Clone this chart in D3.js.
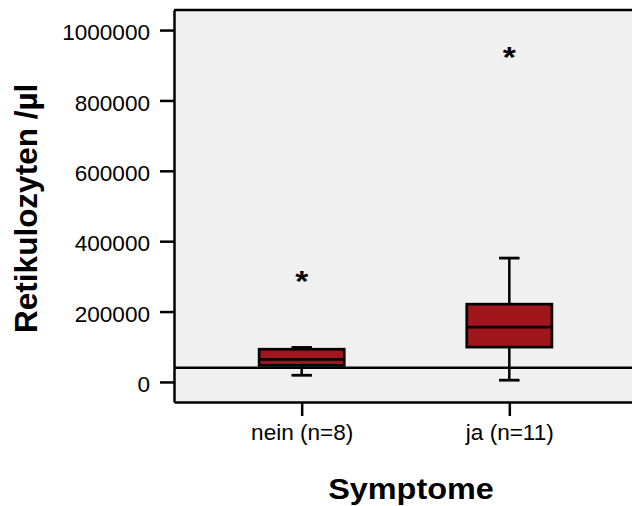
<!DOCTYPE html>
<html>
<head>
<meta charset="utf-8">
<script src="https://cdn.jsdelivr.net/npm/d3@7"></script>
<style>
  html, body { margin: 0; padding: 0; background: #ffffff; }
  svg { display: block; font-family: "Liberation Sans", Arial, sans-serif; }
</style>
</head>
<body>
<svg id="chart" width="632" height="506"></svg>
<script>
// Reticulocyte counts by symptom group (box plot summary)
const categories   = ["nein (n=8)", "ja (n=11)"];
const q1           = [47000, 99000];
const median       = [64000, 156000];
const q3           = [93000, 221000];
const whiskerLow   = [19000, 5000];
const whiskerHigh  = [98000, 352000];
const extremes     = [[298000], [934000]];
const referenceValue = 40000;
const yTicks       = [0, 200000, 400000, 600000, 800000, 1000000];
const yTitle = "Retikulozyten /µl";
const xTitle = "Symptome";

const svg = d3.select("#chart");
const plot = { left: 174, right: 637, top: 10, bottom: 402 };
const stretch = 1.05;
const tickFont = 21.5;
const lineW = 2.5;

const x = d3.scalePoint().domain(categories).range([plot.left, plot.right]).padding(0.615);
const y = d3.scaleLinear().domain([-57000, 1057000]).range([plot.bottom, plot.top]);

// plot background
svg.append("rect")
  .attr("x", plot.left).attr("y", plot.top)
  .attr("width", plot.right - plot.left).attr("height", plot.bottom - plot.top)
  .attr("fill", "#f0f0f0");

// top frame line
svg.append("line")
  .attr("x1", plot.left).attr("x2", plot.right)
  .attr("y1", plot.top).attr("y2", plot.top)
  .attr("stroke", "#000").attr("stroke-width", lineW);

// reference line
svg.append("line")
  .attr("x1", plot.left).attr("x2", plot.right)
  .attr("y1", y(referenceValue)).attr("y2", y(referenceValue))
  .attr("stroke", "#000").attr("stroke-width", lineW);

// boxes
const boxW = x.step() * 0.41;
const capW = boxW * 0.24;
const g = svg.append("g");
categories.forEach((c, i) => {
  const cx = x(c);
  // whiskers
  g.append("line").attr("x1", cx).attr("x2", cx)
    .attr("y1", y(q3[i])).attr("y2", y(whiskerHigh[i]))
    .attr("stroke", "#000").attr("stroke-width", lineW);
  g.append("line").attr("x1", cx).attr("x2", cx)
    .attr("y1", y(q1[i])).attr("y2", y(whiskerLow[i]))
    .attr("stroke", "#000").attr("stroke-width", lineW);
  [whiskerHigh[i], whiskerLow[i]].forEach(v => {
    g.append("line").attr("x1", cx - capW / 2).attr("x2", cx + capW / 2)
      .attr("y1", y(v)).attr("y2", y(v))
      .attr("stroke", "#000").attr("stroke-width", lineW + 0.3);
  });
  // box
  g.append("rect")
    .attr("x", cx - boxW / 2).attr("width", boxW)
    .attr("y", y(q3[i])).attr("height", y(q1[i]) - y(q3[i]))
    .attr("fill", "#a0161c").attr("stroke", "#000").attr("stroke-width", lineW + 0.2);
  // median
  g.append("line").attr("x1", cx - boxW / 2).attr("x2", cx + boxW / 2)
    .attr("y1", y(median[i])).attr("y2", y(median[i]))
    .attr("stroke", "#000").attr("stroke-width", lineW + 0.2);
  // extreme values
  extremes[i].forEach(v => {
    g.append("text")
      .attr("transform", `translate(${cx},${y(v) + 13.5}) scale(1.12,1)`)
      .attr("text-anchor", "middle")
      .attr("font-size", 30).attr("font-weight", "bold")
      .text("*");
  });
});

// y axis
const yAxis = svg.append("g")
  .attr("transform", `translate(${plot.left},0)`)
  .call(d3.axisLeft(y).tickValues(yTicks).tickFormat(d3.format("d"))
    .tickSize(14).tickSizeOuter(0));
yAxis.select(".domain").attr("stroke-width", lineW);
yAxis.selectAll(".tick line").attr("stroke-width", lineW);
yAxis.selectAll(".tick text")
  .attr("font-size", tickFont).attr("font-family", "Liberation Sans, Arial, sans-serif")
  .attr("fill", "#000").attr("dy", "0.45em")
  .attr("transform", `scale(${stretch},1)`)
  .attr("x", -24 / stretch);

// x axis
const xAxis = svg.append("g")
  .attr("transform", `translate(0,${plot.bottom})`)
  .call(d3.axisBottom(x).tickSize(14).tickSizeOuter(0).tickPadding(8.7));
xAxis.select(".domain").attr("stroke-width", lineW);
xAxis.selectAll(".tick line").attr("stroke-width", lineW);
xAxis.selectAll(".tick text")
  .attr("font-size", tickFont).attr("font-family", "Liberation Sans, Arial, sans-serif")
  .attr("fill", "#000")
  .attr("transform", `scale(${stretch},1)`);

// axis titles
svg.append("text")
  .attr("transform", `translate(411,499) scale(1.08,1)`)
  .attr("text-anchor", "middle")
  .attr("font-size", 30).attr("font-weight", "bold")
  .text(xTitle);

svg.append("text")
  .attr("transform", `translate(37,208.3) rotate(-90)`)
  .attr("text-anchor", "middle")
  .attr("font-size", 31.5).attr("font-weight", "bold")
  .text(yTitle);
</script>
</body>
</html>
